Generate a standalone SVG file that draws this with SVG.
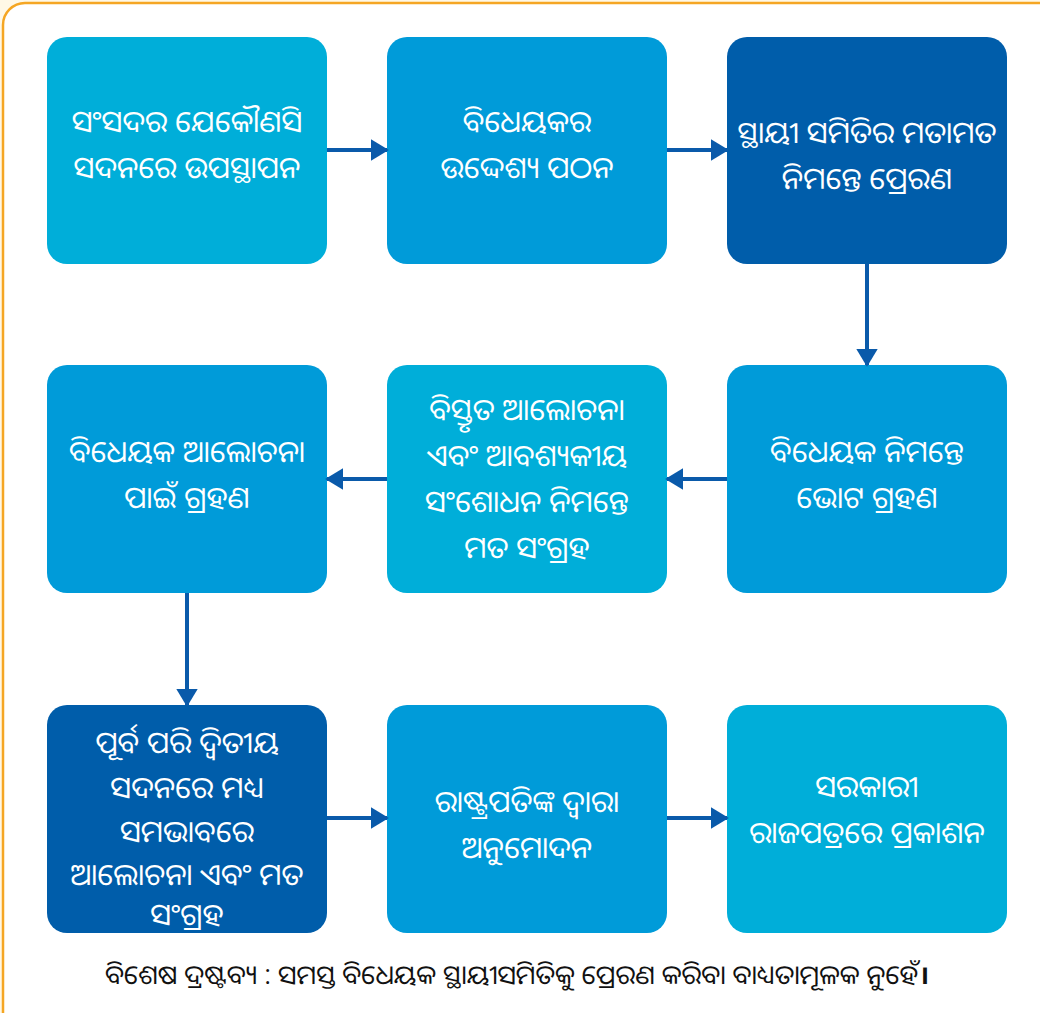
<svg xmlns="http://www.w3.org/2000/svg" width="1040" height="1013" viewBox="0 0 1040 1013">
<defs>
<style>
.n text{font-family:"Noto Sans Oriya","Lohit Odia","Noto Sans",sans-serif;font-size:30px;fill:#fff;text-anchor:middle}
.c1{fill:#00AED9}.c2{fill:#009BD9}.c3{fill:#005DAA}
.edge{stroke:#0A5AAA;stroke-width:4;fill:none;marker-end:url(#ah)}
.foot{font-family:"Noto Sans Oriya","Lohit Odia","Noto Sans",sans-serif;font-size:26.5px;fill:#111}
.danda{font-family:"Noto Sans Devanagari","Lohit Devanagari","Noto Sans Bengali","FreeSans","Noto Sans Oriya",sans-serif;font-weight:bold}
</style>
<marker id="ah" viewBox="0 0 10 12" refX="9" refY="6" markerWidth="4.5" markerHeight="5.4" orient="auto" markerUnits="strokeWidth">
<path d="M0,0 L10,6 L0,12 z" fill="#0A5AAA"/>
</marker>
</defs>
<rect x="0" y="0" width="1040" height="1013" fill="#FFF8E6"/>
<rect x="3" y="3" width="1060" height="1040" rx="22" fill="#fff" stroke="#F5A623" stroke-width="2.5"/>
<g id="n1" class="n"><rect class="c1" x="47" y="37" width="280" height="227" rx="20"/><text x="187" y="132">ସଂସଦର ଯେକୌଣସି</text><text x="187" y="178">ସଦନରେ ଉପସ୍ଥାପନ</text></g>
<g id="n2" class="n"><rect class="c2" x="387" y="37" width="280" height="227" rx="20"/><text x="527" y="132">ବିଧେୟକର</text><text x="527" y="178">ଉଦ୍ଦେଶ୍ୟ ପଠନ</text></g>
<g id="n3" class="n"><rect class="c3" x="727" y="37" width="280" height="227" rx="20"/><text x="867" y="143">ସ୍ଥାୟୀ ସମିତିର ମତାମତ</text><text x="867" y="189">ନିମନ୍ତେ ପ୍ରେରଣ</text></g>
<g id="n4" class="n"><rect class="c2" x="727" y="365" width="280" height="228" rx="20"/><text x="867" y="462">ବିଧେୟକ ନିମନ୍ତେ</text><text x="867" y="508">ଭୋଟ ଗ୍ରହଣ</text></g>
<g id="n5" class="n"><rect class="c1" x="387" y="365" width="280" height="228" rx="20"/><text x="527" y="420">ବିସ୍ତୃତ ଆଲୋଚନା</text><text x="527" y="466">ଏବଂ ଆବଶ୍ୟକୀୟ</text><text x="527" y="512">ସଂଶୋଧନ ନିମନ୍ତେ</text><text x="527" y="558">ମତ ସଂଗ୍ରହ</text></g>
<g id="n6" class="n"><rect class="c2" x="47" y="365" width="280" height="228" rx="20"/><text x="187" y="462">ବିଧେୟକ ଆଲୋଚନା</text><text x="187" y="508">ପାଇଁ ଗ୍ରହଣ</text></g>
<g id="n7" class="n"><rect class="c3" x="47" y="705" width="280" height="228" rx="20"/><text x="187" y="753">ପୂର୍ବ ପରି ଦ୍ୱିତୀୟ</text><text x="187" y="798">ସଦନରେ ମଧ୍ୟ</text><text x="187" y="842">ସମଭାବରେ</text><text x="187" y="885">ଆଲୋଚନା ଏବଂ ମତ</text><text x="187" y="925">ସଂଗ୍ରହ</text></g>
<g id="n8" class="n"><rect class="c2" x="387" y="705" width="280" height="228" rx="20"/><text x="527" y="812">ରାଷ୍ଟ୍ରପତିଙ୍କ ଦ୍ୱାରା</text><text x="527" y="858">ଅନୁମୋଦନ</text></g>
<g id="n9" class="n"><rect class="c1" x="727" y="705" width="280" height="228" rx="20"/><text x="867" y="797">ସରକାରୀ</text><text x="867" y="843">ରାଜପତ୍ରରେ ପ୍ରକାଶନ</text></g>
<g id="edges">
<path class="edge" d="M327,150 H387"/>
<path class="edge" d="M667,150 H727"/>
<path class="edge" d="M867,264 V365"/>
<path class="edge" d="M727,479 H667"/>
<path class="edge" d="M387,479 H327"/>
<path class="edge" d="M187,593 V705"/>
<path class="edge" d="M327,818 H387"/>
<path class="edge" d="M667,818 H727"/>
</g>
<text class="foot" x="105" y="984">ବିଶେଷ ଦ୍ରଷ୍ଟବ୍ୟ : ସମସ୍ତ ବିଧେୟକ ସ୍ଥାୟୀସମିତିକୁ ପ୍ରେରଣ କରିବା ବାଧ୍ୟତାମୂଳକ ନୁହେଁ<tspan class="danda">।</tspan></text>
</svg>
